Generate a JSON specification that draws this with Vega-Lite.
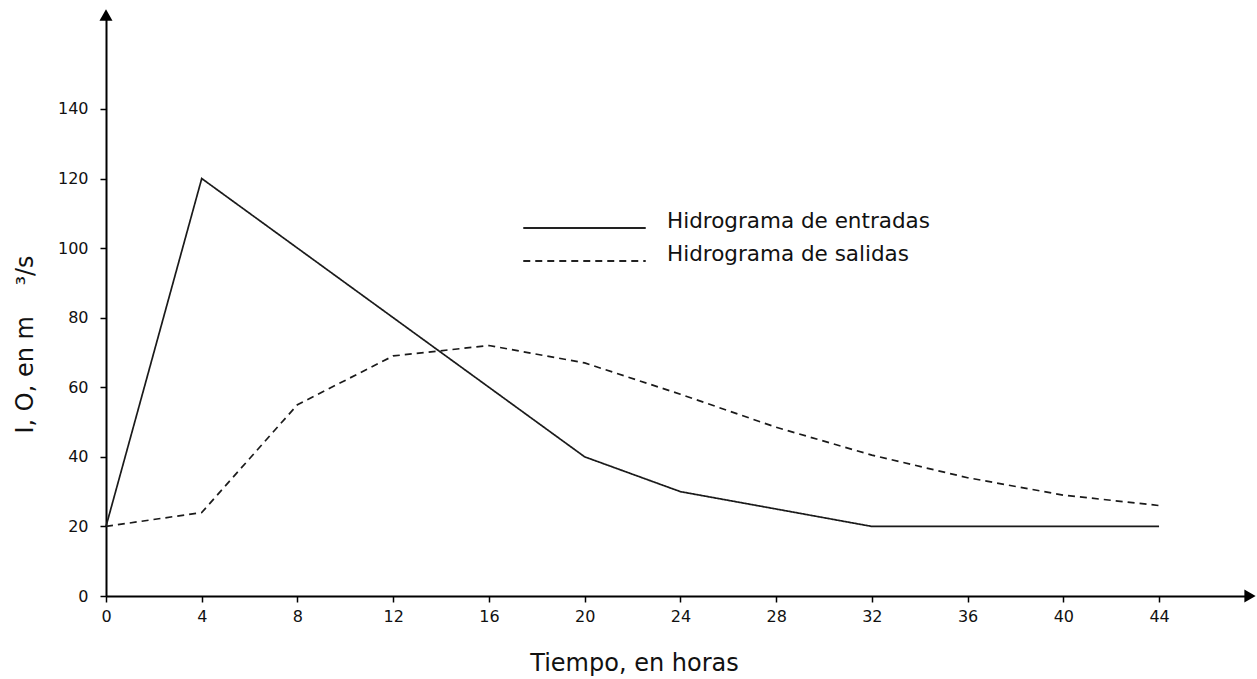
{
  "$schema": "https://vega.github.io/schema/vega-lite/v6.json",
  "width": 1144,
  "height": 581,
  "autosize": {"type": "none"},
  "padding": {"left": 106, "top": 15, "right": 7, "bottom": 83},
  "background": "white",
  "config": {
    "view": {"stroke": null},
    "font": "DejaVu Sans",
    "axis": {"grid": false, "domainColor": "#000", "domainWidth": 2, "tickColor": "#000", "tickWidth": 1.5, "tickSize": 6, "labelColor": "#111", "labelFont": "DejaVu Sans", "labelFontSize": 16, "labelFlush": false, "titleFont": "DejaVu Sans", "titleFontWeight": "normal", "titleColor": "#111"}
  },
  "datasets": {
    "series": [
      {"t": 0, "q": 20, "serie": "Hidrograma de entradas"},
      {"t": 4, "q": 120, "serie": "Hidrograma de entradas"},
      {"t": 8, "q": 100, "serie": "Hidrograma de entradas"},
      {"t": 12, "q": 80, "serie": "Hidrograma de entradas"},
      {"t": 16, "q": 60, "serie": "Hidrograma de entradas"},
      {"t": 20, "q": 40, "serie": "Hidrograma de entradas"},
      {"t": 24, "q": 30, "serie": "Hidrograma de entradas"},
      {"t": 28, "q": 25, "serie": "Hidrograma de entradas"},
      {"t": 32, "q": 20, "serie": "Hidrograma de entradas"},
      {"t": 36, "q": 20, "serie": "Hidrograma de entradas"},
      {"t": 40, "q": 20, "serie": "Hidrograma de entradas"},
      {"t": 44, "q": 20, "serie": "Hidrograma de entradas"},
      {"t": 0, "q": 20, "serie": "Hidrograma de salidas"},
      {"t": 4, "q": 24, "serie": "Hidrograma de salidas"},
      {"t": 8, "q": 55, "serie": "Hidrograma de salidas"},
      {"t": 12, "q": 69, "serie": "Hidrograma de salidas"},
      {"t": 16, "q": 72, "serie": "Hidrograma de salidas"},
      {"t": 20, "q": 67, "serie": "Hidrograma de salidas"},
      {"t": 24, "q": 58, "serie": "Hidrograma de salidas"},
      {"t": 28, "q": 48.5, "serie": "Hidrograma de salidas"},
      {"t": 32, "q": 40.5, "serie": "Hidrograma de salidas"},
      {"t": 36, "q": 34, "serie": "Hidrograma de salidas"},
      {"t": 40, "q": 29, "serie": "Hidrograma de salidas"},
      {"t": 44, "q": 26, "serie": "Hidrograma de salidas"}
    ],
    "ejes": [
      {"t": 47.8, "q": 0, "eje": "x"},
      {"t": 0, "q": 167, "eje": "y"}
    ]
  },
  "layer": [
    {
      "data": {"name": "series"},
      "mark": {"type": "line", "strokeWidth": 1.7, "color": "#1a1a1a"},
      "encoding": {
        "x": {"field": "t", "type": "quantitative", "scale": {"domain": [0, 47.8], "nice": false, "zero": false},
          "axis": {"values": [0,4,8,12,16,20,24,28,32,36,40,44], "title": "Tiempo, en horas", "titleFontSize": 24, "titleX": 528, "titlePadding": 27, "labelPadding": 6}},
        "y": {"field": "q", "type": "quantitative", "scale": {"domain": [0, 167], "nice": false},
          "axis": {"values": [0,20,40,60,80,100,120,140], "title": "I, O, en m\u00a0\u00a0\u00a0\u00a0³/s", "titleFontSize": 24, "titleY": 329, "titlePadding": 20, "labelPadding": 12}},
        "strokeDash": {"field": "serie", "type": "nominal",
          "scale": {"domain": ["Hidrograma de entradas", "Hidrograma de salidas"], "range": [[1, 0], [7, 5]]},
          "legend": {"title": null, "orient": "none", "legendX": 416, "legendY": 197, "symbolType": "stroke", "symbolSize": 15000, "symbolStrokeWidth": 2, "symbolStrokeColor": "#222", "labelFontSize": 21.5, "labelFont": "DejaVu Sans", "labelColor": "#111", "labelOffset": 20, "labelLimit": 0, "labelBaseline": "alphabetic", "clipHeight": 32, "rowPadding": 0}},
        "detail": {"field": "serie"}
      }
    },
    {
      "data": {"name": "ejes"},
      "mark": {"type": "point", "filled": true, "color": "#000", "opacity": 1, "size": 170},
      "encoding": {
        "x": {"field": "t", "type": "quantitative"},
        "y": {"field": "q", "type": "quantitative"},
        "shape": {"field": "eje", "type": "nominal", "scale": {"domain": ["x", "y"], "range": ["triangle-right", "triangle-up"]}, "legend": null}
      }
    }
  ]
}
